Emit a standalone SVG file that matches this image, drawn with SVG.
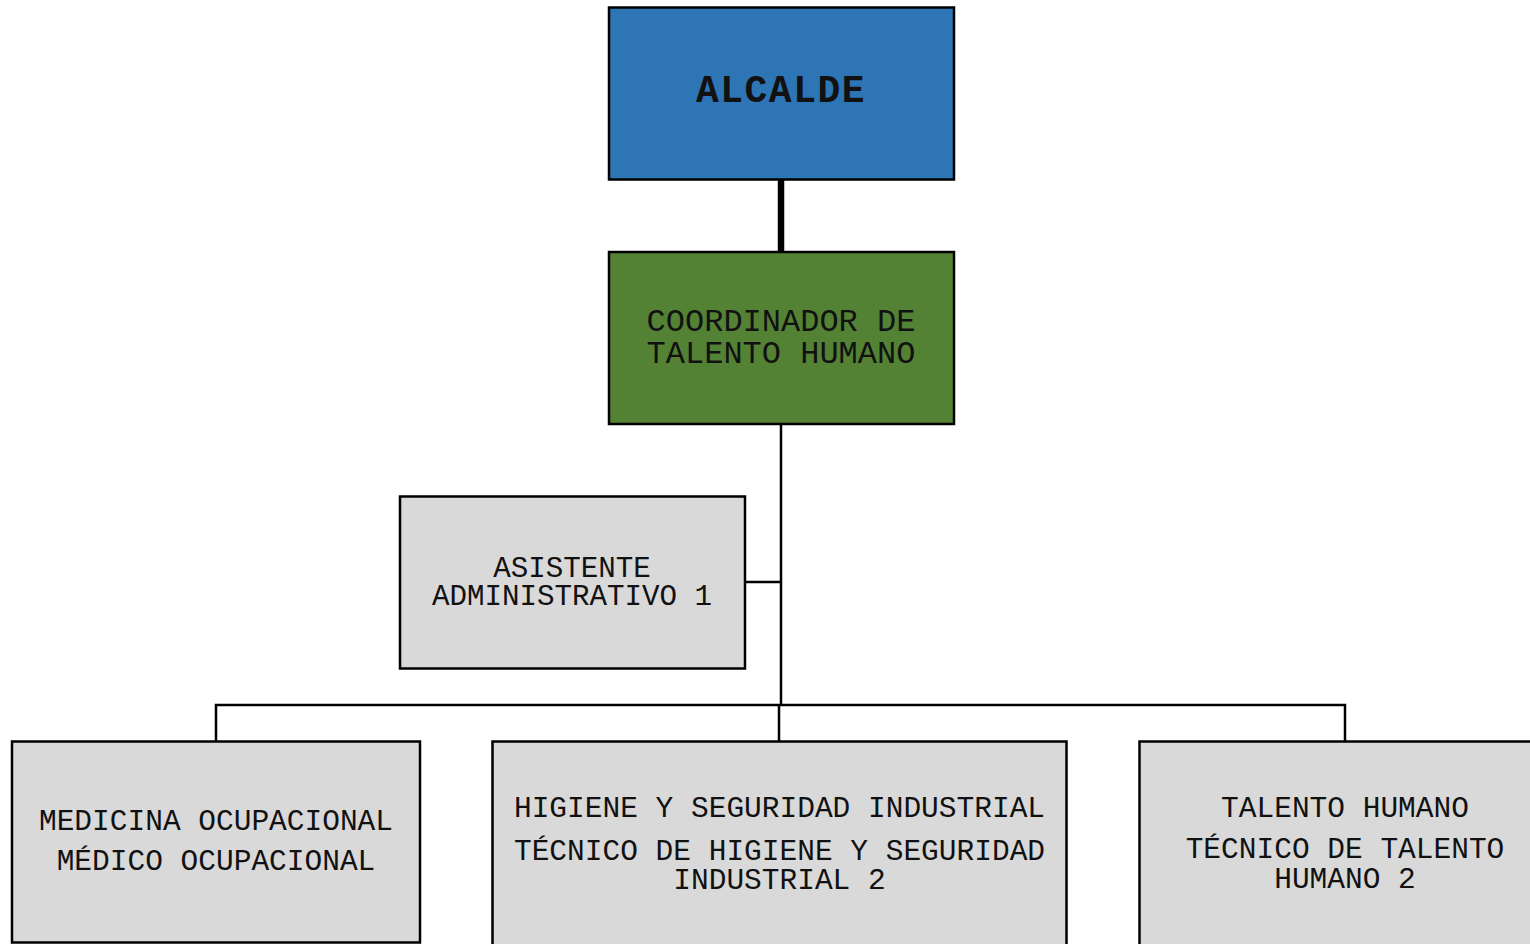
<svg xmlns="http://www.w3.org/2000/svg" width="1530" height="944" viewBox="0 0 1530 944">
<style>
.box{stroke:#000;stroke-width:2.5}
.gray{fill:#D9D9D9}
.t{font-family:"Liberation Mono","Courier New",monospace;fill:#111;text-anchor:middle}
.conn{stroke:#000;stroke-width:2.5;fill:none}
</style>
<rect width="1530" height="944" fill="#fff"/>
<g id="connectors">
<line class="conn" x1="781" y1="180" x2="781" y2="252" style="stroke-width:6.5"/>
<line class="conn" x1="781" y1="424" x2="781" y2="706"/>
<line class="conn" x1="745" y1="582" x2="781" y2="582"/>
<polyline class="conn" points="216,741 216,705 1345,705 1345,741"/>
<line class="conn" x1="779" y1="705" x2="779" y2="741"/>
</g>
<g id="alcalde">
<rect class="box" x="609" y="7.5" width="345" height="172" fill="#2E75B6"/>
<text class="t" x="781" y="102" font-size="38" font-weight="bold" letter-spacing="1.5">ALCALDE</text>
</g>
<g id="coordinador">
<rect class="box" x="609" y="252" width="345" height="172" fill="#548235"/>
<text class="t" x="781" y="331" font-size="32">COORDINADOR DE</text>
<text class="t" x="781" y="363" font-size="32">TALENTO HUMANO</text>
</g>
<g id="asistente">
<rect class="box gray" x="400" y="496.5" width="345" height="172"/>
<text class="t" x="572" y="577" font-size="29.2">ASISTENTE</text>
<text class="t" x="572" y="605" font-size="29.2">ADMINISTRATIVO 1</text>
</g>
<g id="medicina">
<rect class="box gray" x="12" y="741.5" width="408" height="201"/>
<text class="t" x="216" y="830" font-size="29.5">MEDICINA OCUPACIONAL</text>
<text class="t" x="216" y="870" font-size="29.5">MÉDICO OCUPACIONAL</text>
</g>
<g id="higiene">
<rect class="box gray" x="492.5" y="741.5" width="574" height="210"/>
<text class="t" x="779.5" y="817" font-size="29.5">HIGIENE Y SEGURIDAD INDUSTRIAL</text>
<text class="t" x="779.5" y="860" font-size="29.5">TÉCNICO DE HIGIENE Y SEGURIDAD</text>
<text class="t" x="779.5" y="889" font-size="29.5">INDUSTRIAL 2</text>
</g>
<g id="talento">
<rect class="box gray" x="1139.5" y="741.5" width="400" height="210"/>
<text class="t" x="1345" y="817" font-size="29.5">TALENTO HUMANO</text>
<text class="t" x="1345" y="858" font-size="29.5">TÉCNICO DE TALENTO</text>
<text class="t" x="1345" y="888" font-size="29.5">HUMANO 2</text>
</g>
</svg>
